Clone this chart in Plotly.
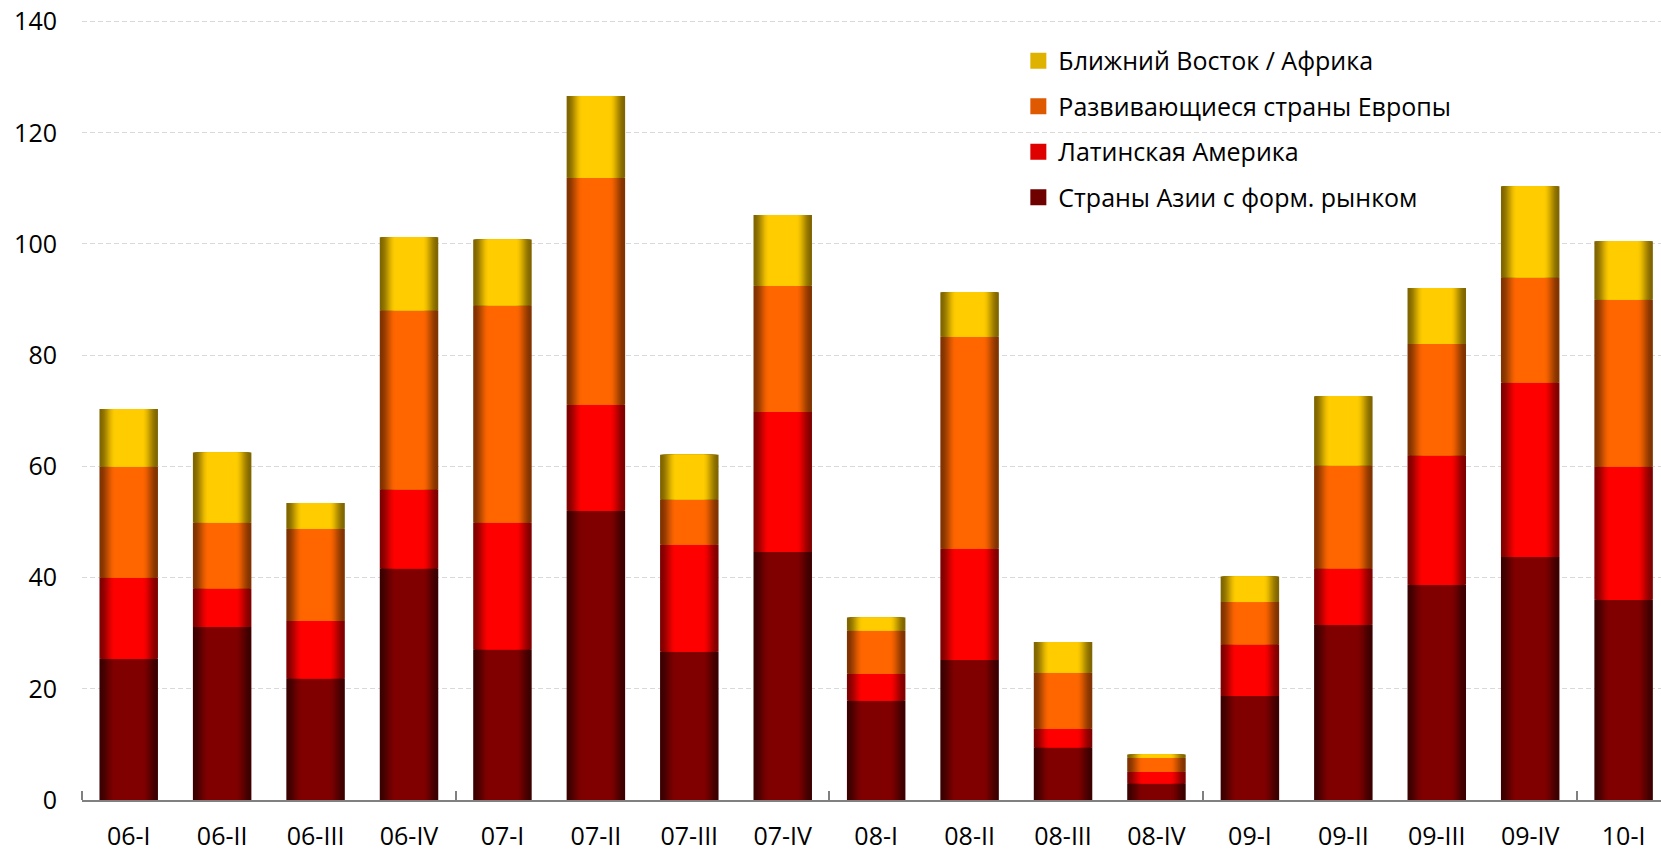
import numpy as np
import plotly.graph_objects as go

# Quarterly labels
quarters = ["06-I", "06-II", "06-III", "06-IV", "07-I", "07-II", "07-III", "07-IV",
            "08-I", "08-II", "08-III", "08-IV", "09-I", "09-II", "09-III", "09-IV", "10-I"]

# Series values (stacked from bottom to top)
asia = [25.4, 31.1, 21.9, 41.7, 27.1, 52.0, 26.7, 44.6, 17.9, 25.2, 9.5, 3.0, 18.7, 31.5, 38.7, 43.7, 36.0]
latam = [14.6, 7.0, 10.3, 14.2, 22.8, 19.1, 19.2, 25.2, 4.8, 20.0, 3.3, 2.1, 9.3, 10.2, 23.3, 31.4, 24.0]
europe = [20.0, 11.8, 16.6, 32.2, 39.1, 40.8, 8.2, 22.7, 7.8, 38.1, 10.1, 2.5, 7.6, 18.5, 20.0, 18.9, 30.0]
mideast = [10.3, 12.6, 4.6, 13.1, 11.8, 14.7, 8.0, 12.7, 2.3, 8.0, 5.5, 0.6, 4.6, 12.4, 10.1, 16.4, 10.5]

series = [
    ("Страны Азии с форм. рынком", asia, (128, 0, 0), (60, 0, 0)),
    ("Латинская Америка", latam, (255, 0, 0), (128, 0, 0)),
    ("Развивающиеся страны Европы", europe, (255, 102, 0), (128, 51, 0)),
    ("Ближний Восток / Африка", mideast, (255, 204, 0), (128, 102, 0)),
]

FONT = "Open Sans"
x = np.arange(len(quarters))
bar_w = 0.626
levels = 16          # nested bars that build the horizontal shading
ramp = 0.26          # share of the bar width (per side) used by the shading ramp


def mix(lo, hi, t):
    return "rgb(%d,%d,%d)" % tuple(round(a + (b - a) * t) for a, b in zip(lo, hi))


fig = go.Figure()
base = np.zeros(len(quarters))
n_series = len(series)
for idx, (name, vals, hi, lo) in enumerate(series):
    vals = np.array(vals, dtype=float)
    for k in range(levels):
        f = k / (levels - 1)
        t = f * f * (3 - 2 * f)
        width = bar_w * (1 - 2 * ramp * f)
        fig.add_trace(go.Bar(
            x=x, y=vals, base=base, width=width,
            marker=dict(color=mix(lo, hi, t), line=dict(width=0)),
            name=name, legendgroup=name, showlegend=False,
            hoverinfo="skip",
        ))
    # legend swatch for the series
    fig.add_trace(go.Scatter(
        x=[None], y=[None], mode="markers", name=name, legendgroup=name,
        legendrank=n_series - idx,
        marker=dict(symbol="square", size=16, color=mix(lo, hi, 0.75), line=dict(width=0)),
        hoverinfo="skip",
    ))
    base = base + vals

fig.update_layout(
    width=1661, height=851,
    margin=dict(l=82, r=0, t=16, b=51),
    plot_bgcolor="white", paper_bgcolor="white",
    barmode="overlay",
    font=dict(family=FONT, size=25, color="black"),
    showlegend=True,
    legend=dict(
        x=0.593, xanchor="left", y=0.972, yanchor="top",
        traceorder="grouped", tracegroupgap=10,
        itemsizing="trace",
        font=dict(family=FONT, size=25, color="black"),
        bgcolor="rgba(0,0,0,0)",
    ),
    xaxis=dict(
        range=[-0.5, 16.40], automargin=False,
        tickmode="array", tickvals=list(x), ticktext=quarters,
        ticks="", showgrid=False, zeroline=False,
        showline=True, linecolor="#808080", linewidth=1.5,
        ticklabelstandoff=13,
        minor=dict(tickmode="linear", tick0=-0.5, dtick=4, ticks="inside",
                   ticklen=9, tickcolor="#808080", tickwidth=1.5, showgrid=False),
    ),
    yaxis=dict(
        range=[0, 141], automargin=False,
        tickmode="linear", tick0=0, dtick=20,
        showgrid=True, gridcolor="#d9d9d9", gridwidth=1, griddash="5px,3px",
        zeroline=False, showline=False, ticks="",
        ticklabelstandoff=24,
    ),
)

fig.write_html("out.html")
